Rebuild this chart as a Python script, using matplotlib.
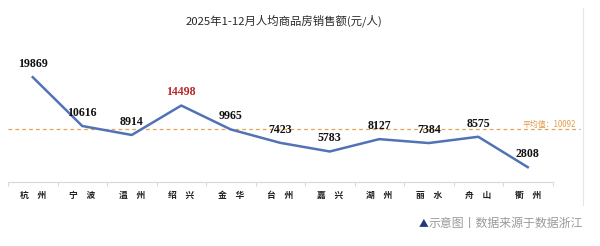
import matplotlib
matplotlib.use("Agg")
import matplotlib.pyplot as plt
import matplotlib.transforms as mtransforms
import numpy as np

plt.rcParams['font.family'] = ['Noto Sans CJK SC', 'DejaVu Sans']

cities = ["杭　州", "宁　波", "温　州", "绍　兴", "金　华", "台　州", "嘉　兴", "湖　州", "丽　水", "舟　山", "衢　州"]
values = [19869, 10616, 8914, 14498, 9965, 7423, 5783, 8127, 7384, 8575, 2808]
average = 10092
title = "2025年1-12月人均商品房销售额(元/人)"
highlight = "绍　兴"

W, H = 600, 246
fig = plt.figure(figsize=(W / 100, H / 100), dpi=100)
fig.patch.set_facecolor("white")

left_px, right_px, zero_px, top_px = 8, 552.5, 182, 40
ymax = (zero_px - top_px) / 0.005275
ax = fig.add_axes([left_px / W, 1 - zero_px / H, (right_px - left_px) / W, (zero_px - top_px) / H])

x = np.arange(len(cities))
ax.plot(x, values, color="#5272b6", lw=1.8, solid_joinstyle="round", zorder=3)

for xi, v, c in zip(x, values, cities):
    col = "#b8282a" if c == highlight else "#111111"
    ax.annotate(str(v), (xi, v), xytext=(0, 9.4), textcoords="offset points",
                ha="center", va="center", fontsize=8.6, fontweight="bold",
                family=["Liberation Serif", "DejaVu Serif"], color=col, zorder=4)

# average line extending beyond the axes
trans = mtransforms.blended_transform_factory(ax.transAxes, ax.transData)
ax.plot([0, (580 - left_px) / (right_px - left_px)], [average, average], transform=trans,
        color="#e2a550", lw=0.9, ls=(0, (3, 2.5)), clip_on=False, zorder=2)
ax.text((576 - left_px) / (right_px - left_px), average, "平均值：" + str(average),
        transform=trans, ha="right", va="bottom", fontsize=5.7, color="#e39a4a")

ax.set_xlim(-0.5, len(cities) - 0.5)
ax.set_ylim(0, ymax)
for s in ["top", "right", "left"]:
    ax.spines[s].set_visible(False)
ax.spines["bottom"].set_color("#d9d9d9")
ax.spines["bottom"].set_linewidth(0.8)
ax.set_yticks([])
ax.set_xticks(x)
ax.set_xticklabels(cities, fontsize=6.3, color="#222222", fontweight="bold")
ax.tick_params(axis="x", which="major", length=0, pad=6.5)
ax.set_xticks(np.arange(-0.5, len(cities)), minor=True)
ax.tick_params(axis="x", which="minor", length=3, color="#d9d9d9", width=0.8)

fig.text(284 / W, 1 - 21 / H, title, ha="center", va="center", fontsize=8.2, color="#2a2a2a")

# right frame line
fig.add_artist(plt.Line2D([583 / W, 583 / W], [1 - 8 / H, 1 - 205 / H], color="#e6e6e6", lw=0.8))

foot = fig.text(583 / W, 1 - 223 / H, "示意图丨数据来源于数据浙江", ha="right", va="center",
                fontsize=8.6, color="#9a9a9a")
r = fig.canvas.get_renderer()
bb = foot.get_window_extent(renderer=r)
fig.text((bb.x0 - 0.5) / W, 1 - 223 / H, "▲", ha="right", va="center", fontsize=7.0, color="#1f3a7a")

fig.savefig("out.png", dpi=100)
